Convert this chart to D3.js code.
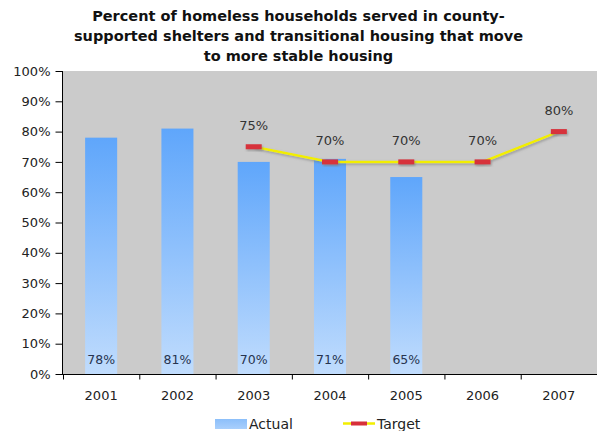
<!DOCTYPE html>
<html>
<head>
<meta charset="utf-8">
<script src="https://cdn.jsdelivr.net/npm/d3@7"></script>
<style>
  html, body { margin: 0; padding: 0; background: #fff; }
  svg { display: block; }
  text { font-family: "DejaVu Sans", Verdana, sans-serif; }
</style>
</head>
<body>
<svg id="chart" width="597" height="431"></svg>
<script>
// Chart data
const years = ["2001", "2002", "2003", "2004", "2005", "2006", "2007"];
const actual = [78, 81, 70, 71, 65, null, null];
const target = [null, null, 75, 70, 70, 70, 80];
const yTicks = [0, 10, 20, 30, 40, 50, 60, 70, 80, 90, 100];
const titleLines = [
  "Percent of homeless households served in county-",
  "supported shelters and transitional housing that move",
  "to more stable housing"
];
const legendLabels = ["Actual", "Target"];

const W = 597, H = 431;
const plot = { left: 63, right: 597, top: 71, bottom: 374 };

const svg = d3.select("#chart");
const defs = svg.append("defs");

const barGrad = defs.append("linearGradient")
  .attr("id", "barGrad").attr("x1", 0).attr("y1", 0).attr("x2", 0).attr("y2", 1);
barGrad.append("stop").attr("offset", "0%").attr("stop-color", "#5fa6fb");
barGrad.append("stop").attr("offset", "100%").attr("stop-color", "#c0dcfd");

const legGrad = defs.append("linearGradient")
  .attr("id", "legGrad").attr("x1", 0).attr("y1", 0).attr("x2", 0).attr("y2", 1);
legGrad.append("stop").attr("offset", "0%").attr("stop-color", "#8cbffa");
legGrad.append("stop").attr("offset", "100%").attr("stop-color", "#a9cffc");

const shadow = defs.append("filter").attr("id", "shadow")
  .attr("x", "-20%").attr("y", "-50%").attr("width", "140%").attr("height", "200%");
shadow.append("feDropShadow").attr("dx", 1).attr("dy", 1.5)
  .attr("stdDeviation", 0.8).attr("flood-color", "#777").attr("flood-opacity", 0.6);

const x = d3.scaleBand().domain(years).range([plot.left, plot.right]).paddingInner(0.58).paddingOuter(0.29);
const xBand = d3.scaleBand().domain(years).range([plot.left, plot.right]);
const y = d3.scaleLinear().domain([0, 100]).range([plot.bottom, plot.top]);

// Title
const title = svg.append("text")
  .attr("text-anchor", "middle")
  .attr("font-weight", "bold")
  .attr("font-size", 14.5)
  .attr("fill", "#111");
titleLines.forEach((t, i) => {
  title.append("tspan").attr("x", W / 2).attr("y", 21 + i * 20).text(t);
});

// Plot background
svg.append("rect")
  .attr("x", plot.left).attr("y", plot.top)
  .attr("width", plot.right - plot.left).attr("height", plot.bottom - plot.top)
  .attr("fill", "#cbcbcb");

// Bars
const barData = years.map((yr, i) => ({ yr, v: actual[i] })).filter(d => d.v != null);
svg.append("g").selectAll("rect").data(barData).join("rect")
  .attr("x", d => x(d.yr))
  .attr("width", x.bandwidth())
  .attr("y", d => y(d.v))
  .attr("height", d => y(0) - y(d.v))
  .attr("fill", "url(#barGrad)");

// Bar value labels at base
svg.append("g").selectAll("text").data(barData).join("text")
  .attr("x", d => x(d.yr) + x.bandwidth() / 2)
  .attr("y", y(0) - 10)
  .attr("text-anchor", "middle")
  .attr("font-size", 12.5)
  .attr("fill", "#27344f")
  .text(d => d.v + "%");

// Target line
const tData = years.map((yr, i) => ({ yr, v: target[i] })).filter(d => d.v != null);
const cx = d => xBand(d.yr) + xBand.bandwidth() / 2;
svg.append("path")
  .datum(tData)
  .attr("d", d3.line().x(cx).y(d => y(d.v)))
  .attr("fill", "none")
  .attr("stroke", "#f2ee00")
  .attr("stroke-width", 2.5)
  .attr("filter", "url(#shadow)");

svg.append("g").selectAll("rect").data(tData).join("rect")
  .attr("x", d => cx(d) - 8)
  .attr("y", d => y(d.v) - 2.5)
  .attr("width", 16).attr("height", 5)
  .attr("fill", "#d7303a")
  .attr("filter", "url(#shadow)");

svg.append("g").selectAll("text").data(tData).join("text")
  .attr("x", d => cx(d))
  .attr("y", d => y(d.v) - 17)
  .attr("text-anchor", "middle")
  .attr("font-size", 13)
  .attr("fill", "#333")
  .text(d => d.v + "%");

// Y axis
const yAxis = svg.append("g")
  .attr("transform", `translate(${plot.left - 0.5},0)`)
  .call(d3.axisLeft(y).tickValues(yTicks).tickFormat(d => d + "%").tickSize(7).tickPadding(5));
yAxis.selectAll("text").attr("font-size", 13).attr("fill", "#222")
  .style("font-family", '"DejaVu Sans", Verdana, sans-serif');
yAxis.selectAll("line, path").attr("stroke", "#000");
yAxis.select(".domain").attr("d", `M0,${plot.top}V${plot.bottom}`);

// X axis: ticks at category boundaries
const xAxisG = svg.append("g").attr("transform", `translate(0,${plot.bottom + 0.5})`);
xAxisG.append("line")
  .attr("x1", plot.left - 7).attr("x2", plot.right)
  .attr("stroke", "#000");
xAxisG.selectAll("line.tick").data(years).join("line")
  .attr("class", "tick")
  .attr("x1", d => xBand(d) + 0.5).attr("x2", d => xBand(d) + 0.5)
  .attr("y1", 0).attr("y2", 5)
  .attr("stroke", "#000");
xAxisG.selectAll("text").data(years).join("text")
  .attr("x", d => xBand(d) + xBand.bandwidth() / 2)
  .attr("y", 25.5)
  .attr("text-anchor", "middle")
  .attr("font-size", 13)
  .attr("fill", "#222")
  .text(d => d);

// Legend
const leg = svg.append("g");
leg.append("rect").attr("x", 215).attr("y", 419).attr("width", 32).attr("height", 10)
  .attr("fill", "url(#legGrad)");
leg.append("text").attr("x", 249).attr("y", 429).attr("font-size", 14).attr("fill", "#222")
  .text(legendLabels[0]);
leg.append("line").attr("x1", 343).attr("x2", 375).attr("y1", 423.5).attr("y2", 423.5)
  .attr("stroke", "#f2ee00").attr("stroke-width", 2.5);
leg.append("rect").attr("x", 351).attr("y", 421.5).attr("width", 16).attr("height", 4)
  .attr("fill", "#d7303a");
leg.append("text").attr("x", 377).attr("y", 429).attr("font-size", 14).attr("fill", "#222")
  .text(legendLabels[1]);
</script>
</body>
</html>
